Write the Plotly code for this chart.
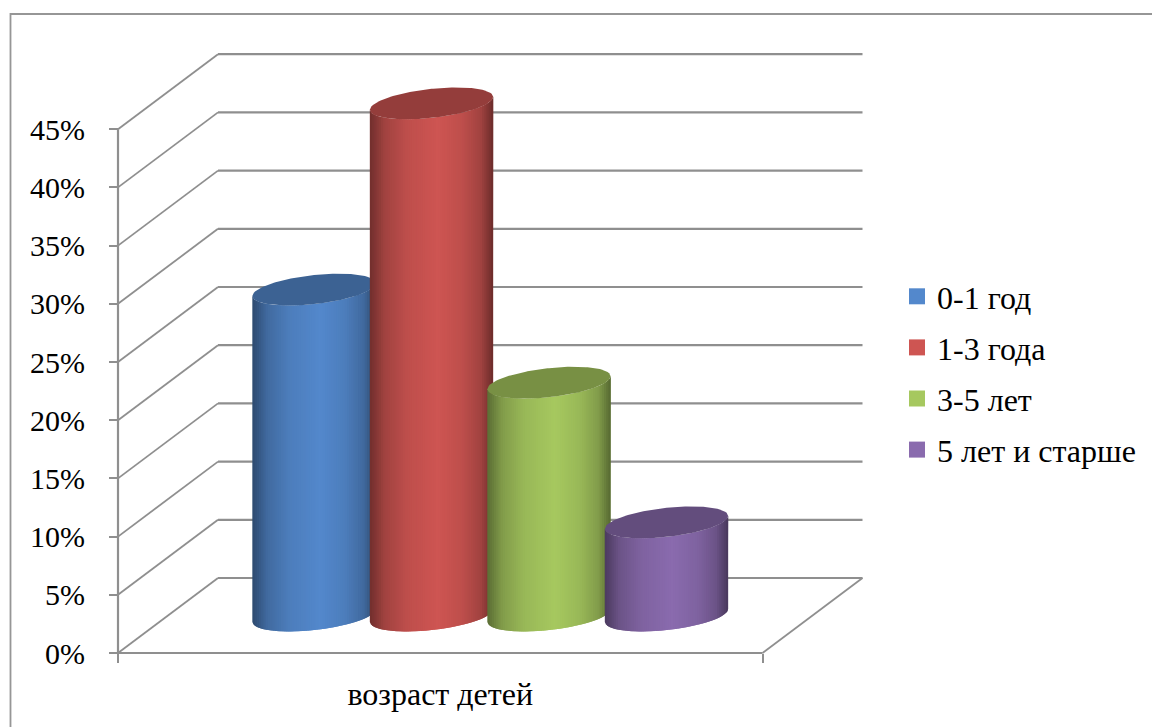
import numpy as np
import plotly.graph_objects as go

# Chart data
SERIES = ["0-1 год", "1-3 года", "3-5 лет", "5 лет и старше"]
VALUES = [28, 44, 20, 8]
COLORS = ["#5388CC", "#CE5552", "#A6C85F", "#8A6BAE"]
CATEGORY = ["возраст детей"]
TICKS = list(range(0, 50, 5))

# Canvas and axis calibration
W, H = 1152, 727
ORIGIN_X, ORIGIN_Y = 118.0, 653.0
PX_PER_X = 644.5
PX_PER_PCT = 11.64

# Oblique floor depth, in axis units
DEPTH_X = 100 / PX_PER_X
DEPTH_Y = 75 / PX_PER_PCT

# Cylinder proportions, in axis units
BAR_STEP = 0.1823
BAR_HALF = 0.0957
CAP_MINOR = 1.25
CAP_TILT = 0.558

GRID = "#8F8F8F"
FONT = "Liberation Serif"

# Brightness across a cylinder's width: dark rims, highlight just past the middle
SHADE_T = [0, 0.04, 0.12, 0.30, 0.55, 0.75, 0.90, 0.97, 1]
SHADE_V = [0.55, 0.62, 0.78, 0.92, 1.0, 0.92, 0.78, 0.60, 0.52]
CAP_SHADE = 0.72
STRIPS = 56


def shaded(color, k):
    r, g, b = (int(color[i:i + 2], 16) for i in (1, 3, 5))
    return f"rgb({r * k:.0f},{g * k:.0f},{b * k:.0f})"


def cap_curve(cx, cy, t, side):
    """Edge of a tilted ellipse; side=-1 is the near half, side=+1 the far half."""
    t = np.asarray(t)
    return cx + t * BAR_HALF, cy + CAP_TILT * t + side * CAP_MINOR * np.sqrt(np.clip(1 - t * t, 0, 1))


fig = go.Figure()

# Walls and floor
wall_x, wall_y = [], []
diag_x, diag_y = [], []
for v in TICKS:
    diag_x += [0, DEPTH_X, None]
    diag_y += [v, v + DEPTH_Y, None]
    wall_x += [DEPTH_X, 1 + DEPTH_X, None]
    wall_y += [v + DEPTH_Y, v + DEPTH_Y, None]
diag_x += [1, 1 + DEPTH_X, None]
diag_y += [0, DEPTH_Y, None]
wall_x += [0, 1, None, 0, 0, None]
wall_y += [0, 0, None, 0, TICKS[-1], None]
fig.add_trace(go.Scatter(x=diag_x, y=diag_y, mode="lines", showlegend=False, hoverinfo="skip",
                         line=dict(color=GRID, width=1.8)))
fig.add_trace(go.Scatter(x=wall_x, y=wall_y, mode="lines", showlegend=False, hoverinfo="skip",
                         line=dict(color=GRID, width=2.2)))

# Cylinders, left to right so each one overlaps the previous
n = len(VALUES)
edges = np.linspace(-1, 1, STRIPS + 1)
for i, (value, color) in enumerate(zip(VALUES, COLORS)):
    cx = 0.5 + (i - (n - 1) / 2) * BAR_STEP + DEPTH_X / 2
    base = DEPTH_Y / 2
    top = base + value
    for s in range(STRIPS):
        t = np.linspace(edges[s], edges[min(s + 2, STRIPS)], 5)
        xt, yt = cap_curve(cx, top, t, -1)
        xb, yb = cap_curve(cx, base, t[::-1], -1)
        k = np.interp((edges[s] + edges[s + 1]) / 4 + 0.5, SHADE_T, SHADE_V)
        fig.add_trace(go.Scatter(
            x=np.r_[xt, xb], y=np.r_[yt, yb], mode="lines", fill="toself",
            fillcolor=shaded(color, k), line=dict(width=0),
            showlegend=False, hoverinfo="skip"))
    t = np.linspace(-1, 1, 81)
    xa, ya = cap_curve(cx, top, t, 1)
    xc, yc = cap_curve(cx, top, t[::-1], -1)
    fig.add_trace(go.Scatter(
        x=np.r_[xa, xc], y=np.r_[ya, yc], mode="lines", fill="toself",
        fillcolor=shaded(color, CAP_SHADE), line=dict(width=0),
        showlegend=False, hoverinfo="skip"))

# Legend entries
for name, color in zip(SERIES, COLORS):
    fig.add_trace(go.Scatter(
        x=[None], y=[None], mode="markers", name=name, legendgroup=name,
        marker=dict(symbol="square", size=16, color=color)))

fig.update_layout(
    width=W, height=H, autosize=False,
    margin=dict(l=0, r=0, t=0, b=0),
    paper_bgcolor="white", plot_bgcolor="white",
    font=dict(family=FONT, color="black"),
    legend=dict(x=897 / W, xanchor="left", y=1 - 269 / H, yanchor="top",
                font=dict(size=32, family=FONT), tracegroupgap=6.5,
                bgcolor="rgba(0,0,0,0)", itemclick=False, itemdoubleclick=False),
    xaxis=dict(
        range=[-ORIGIN_X / PX_PER_X, (W - ORIGIN_X) / PX_PER_X],
        domain=[0, 1], anchor="free", position=(H - ORIGIN_Y) / H,
        showgrid=False, zeroline=False, showline=False,
        tickmode="array", tickvals=[0.5], ticktext=CATEGORY,
        ticks="", ticklabelstandoff=19, tickfont=dict(size=32, family=FONT),
        minor=dict(tickmode="array", tickvals=[0, 1], ticks="outside",
                   ticklen=9, tickwidth=1.8, tickcolor=GRID, showgrid=False),
    ),
    yaxis=dict(
        range=[-(H - ORIGIN_Y) / PX_PER_PCT, ORIGIN_Y / PX_PER_PCT],
        domain=[0, 1], anchor="free", position=ORIGIN_X / W,
        showgrid=False, zeroline=False, showline=False,
        tickmode="array", tickvals=TICKS, ticktext=[f"{v}%" for v in TICKS],
        ticks="outside", ticklen=9, tickwidth=1.8, tickcolor=GRID,
        ticklabelstandoff=18, tickfont=dict(size=30, family=FONT),
    ),
    shapes=[dict(type="path", xref="paper", yref="paper", layer="below",
                 path=f"M {10.5 / W} 0 L {10.5 / W} {1 - 14 / H} L 1 {1 - 14 / H}",
                 line=dict(color="#969696", width=1.8))],
)

fig.write_html("out.html")
